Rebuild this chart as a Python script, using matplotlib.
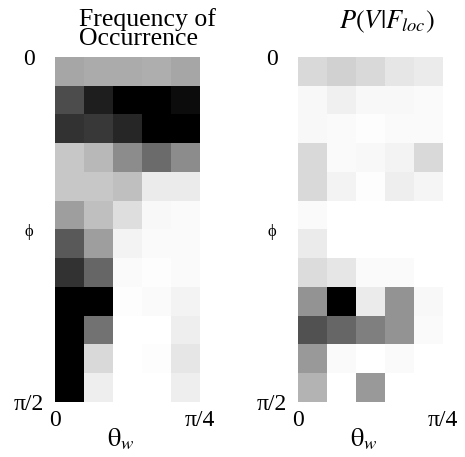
import matplotlib.pyplot as plt
import numpy as np

plt.rcParams['font.family'] = 'Liberation Serif'
plt.rcParams['mathtext.fontset'] = 'stix'

# darkness 0 (white) .. 1 (black), 12 phi rows x 5 theta_w columns
freq = [
    [0.35, 0.33, 0.33, 0.32, 0.35],
    [0.70, 0.88, 1.00, 1.00, 0.95],
    [0.80, 0.78, 0.85, 1.00, 1.00],
    [0.22, 0.28, 0.45, 0.58, 0.45],
    [0.22, 0.22, 0.25, 0.08, 0.08],
    [0.38, 0.25, 0.13, 0.03, 0.02],
    [0.65, 0.38, 0.05, 0.02, 0.02],
    [0.80, 0.60, 0.02, 0.01, 0.02],
    [1.00, 1.00, 0.01, 0.02, 0.05],
    [1.00, 0.55, 0.00, 0.00, 0.07],
    [1.00, 0.15, 0.00, 0.01, 0.10],
    [1.00, 0.07, 0.00, 0.00, 0.07],
]
pvf = [
    [0.15, 0.18, 0.15, 0.10, 0.08],
    [0.03, 0.06, 0.03, 0.03, 0.02],
    [0.03, 0.02, 0.01, 0.02, 0.02],
    [0.15, 0.02, 0.03, 0.05, 0.15],
    [0.15, 0.05, 0.01, 0.07, 0.04],
    [0.02, 0.00, 0.00, 0.00, 0.00],
    [0.08, 0.00, 0.00, 0.00, 0.00],
    [0.14, 0.10, 0.02, 0.02, 0.00],
    [0.42, 1.00, 0.08, 0.42, 0.03],
    [0.68, 0.60, 0.50, 0.42, 0.02],
    [0.40, 0.02, 0.00, 0.02, 0.00],
    [0.30, 0.00, 0.40, 0.00, 0.00],
]
ylabels = ['0', 'ϕ', 'π/2']
xlabels = ['0', 'π/4']

W, H = 465, 457
fig = plt.figure(figsize=(W/100, H/100), dpi=100)

def panel(x0, data):
    ax = fig.add_axes([x0/W, (H-402)/H, 145/W, 345/H])
    ax.imshow(np.array(data), cmap='gray_r', vmin=0, vmax=1, aspect='auto',
              interpolation='nearest')
    for s in ax.spines.values():
        s.set_visible(False)
    ax.set_yticks([-0.5, 5.5, 11.5])
    ax.set_yticklabels(ylabels, fontsize=17, ha='center')
    ax.get_yticklabels()[1].set_fontsize(12)
    ax.set_xticks([-0.5, 4.5])
    ax.set_xticklabels(xlabels, fontsize=17)
    ax.tick_params(axis='y', length=0, pad=19)
    ax.tick_params(axis='x', length=0, pad=6)
    ax.set_xlabel(r'$\mathrm{\theta}_w$', fontsize=19, labelpad=-2)
    ax.xaxis.set_label_coords(0.45, -0.07)
    return ax

panel(55, freq)
panel(298, pvf)

fig.text(79/W, 1 - 8/H, 'Frequency of\nOccurrence', fontsize=18.5,
         ha='left', va='top', linespacing=0.82)
fig.text(387/W, 1 - 9/H, r'$P(V|F_{loc})$', fontsize=19, ha='center', va='top')

fig.savefig('out.png', dpi=100)
